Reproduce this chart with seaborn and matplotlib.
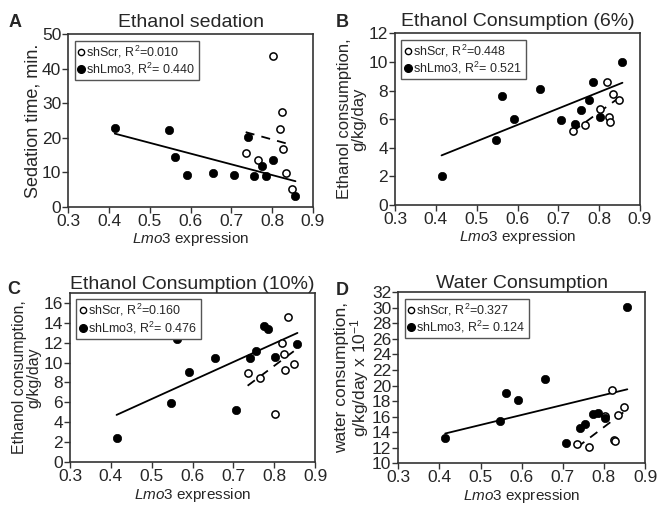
import matplotlib
matplotlib.use("Agg")
import matplotlib.pyplot as plt
import seaborn as sns
import pandas as pd
from matplotlib.lines import Line2D

sns.set_style("ticks")
plt.rcParams['font.family'] = ['Liberation Sans', 'DejaVu Sans']
plt.rcParams['mathtext.fontset'] = 'custom'
plt.rcParams['mathtext.rm'] = 'Liberation Sans'
plt.rcParams['mathtext.it'] = 'Liberation Sans:italic'
plt.rcParams['mathtext.bf'] = 'Liberation Sans:bold'

# Lmo3 expression per animal
x_shLmo3 = [0.414, 0.547, 0.562, 0.592, 0.656, 0.707, 0.741, 0.755, 0.774, 0.785, 0.802, 0.857]
x_shScr = [0.735, 0.765, 0.802, 0.820, 0.824, 0.826, 0.835, 0.848]

# Panel A: Ethanol sedation (min)
sed_shLmo3 = [22.9, 22.2, 14.4, 9.1, 9.9, 9.1, 20.1, 8.9, 11.8, 8.9, 13.6, 3.0]
sed_shScr = [15.6, 13.5, 43.7, 22.4, 27.6, 16.6, 9.7, 5.0]
# Panel B: Ethanol consumption 6% (g/kg/day)
e6_shLmo3 = [2.02, 4.53, 7.60, 6.02, 8.12, 5.93, 5.65, 6.63, 7.33, 8.6, 6.12, 10.0]
e6_shScr = [5.14, 5.56, 6.72, 8.63, 6.12, 5.79, 7.75, 7.33]
# Panel C: Ethanol consumption 10% (g/kg/day)
e10_shLmo3 = [2.4, 5.9, 12.4, 9.1, 10.5, 5.2, 10.5, 11.2, 13.7, 13.4, 10.6, 11.9]
e10_shScr = [9.0, 8.5, 4.8, 12.0, 10.9, 9.3, 14.6, 9.9]
# Panel D: Water consumption (g/kg/day x 10^-1)
w_shLmo3 = [13.2, 15.5, 19.0, 18.15, 20.8, 12.57, 14.5, 15.06, 16.3, 16.43, 15.8, 30.08]
w_shScr = [12.5, 12.05, 16.1, 19.4, 13.0, 12.9, 16.2, 17.3]

panel_letters = ["A", "B", "C", "D"]
titles = ["Ethanol sedation", "Ethanol Consumption (6%)",
          "Ethanol Consumption (10%)", "Water Consumption"]
ylabels = ["Sedation time, min.", "Ethanol consumption,\ng/kg/day",
           "Ethanol consumption,\ng/kg/day", "water consumption,\ng/kg/day x 10$^{-1}$"]
r2_scr = ["0.010", "0.448", "0.160", "0.327"]
r2_lmo = ["0.440", "0.521", "0.476", "0.124"]
ylims = [(0, 50), (0, 12), (0, 17), (10, 32)]
yticks = [list(range(0, 51, 10)), list(range(0, 13, 2)),
          list(range(0, 17, 2)), list(range(10, 33, 2))]
xticks = [0.3, 0.4, 0.5, 0.6, 0.7, 0.8, 0.9]

lmo_sets = [sed_shLmo3, e6_shLmo3, e10_shLmo3, w_shLmo3]
scr_sets = [sed_shScr, e6_shScr, e10_shScr, w_shScr]

W, H = 667, 512
fig = plt.figure(figsize=(W / 100, H / 100), dpi=100)
# axes boxes in pixels: left, top, right, bottom
boxes = [(68.3, 34.3, 313, 206.7), (395, 33.3, 640, 205),
         (70, 292.7, 315, 462.3), (398.3, 292.3, 645, 463.3)]
letter_pos = [(9, 27), (336, 27), (7, 294), (336, 295)]
title_pads = [5, 5, 3, 3]
ylabel_sizes = [13, 12, 11.5, 12.5]
ylabel_pads = [0, 2, 2, 1]

edge = "#333333"
for i in range(4):
    l, t, r, b = boxes[i]
    ax = fig.add_axes([l / W, 1 - b / H, (r - l) / W, (b - t) / H])
    dl = pd.DataFrame({"x": x_shLmo3, "y": lmo_sets[i]})
    ds = pd.DataFrame({"x": x_shScr, "y": scr_sets[i]})
    sns.regplot(data=dl, x="x", y="y", ax=ax, scatter=False, ci=None,
                line_kws=dict(color="black", lw=1.3))
    sns.regplot(data=ds, x="x", y="y", ax=ax, scatter=False, ci=None,
                line_kws=dict(color="black", lw=1.3, ls=(0, (5, 4))))
    sns.scatterplot(data=ds, x="x", y="y", ax=ax, marker="o", s=27,
                    facecolor="white", edgecolor="black", linewidth=1.1, zorder=3)
    sns.scatterplot(data=dl, x="x", y="y", ax=ax, marker="o", s=36,
                    color="black", edgecolor="black", linewidth=0.5, zorder=4)
    ax.set_xlim(0.3, 0.9)
    ax.set_ylim(*ylims[i])
    ax.set_xticks(xticks)
    ax.set_xticklabels([f"{v:.1f}" for v in xticks])
    ax.set_yticks(yticks[i])
    ax.tick_params(axis="x", labelsize=12.5, length=4, width=1, color=edge, pad=1)
    ax.tick_params(axis="y", labelsize=12.5, length=4, width=1, color=edge, pad=1)
    for sp in ax.spines.values():
        sp.set_visible(True)
        sp.set_color(edge)
        sp.set_linewidth(1.2)
    ax.set_xlabel("$\\it{Lmo3}$ expression", fontsize=11, labelpad=1)
    ax.set_ylabel(ylabels[i], fontsize=ylabel_sizes[i], labelpad=ylabel_pads[i],
                  linespacing=0.9)
    ax.set_title(titles[i], fontsize=14, pad=title_pads[i])
    handles = [
        Line2D([], [], ls="none", marker="o", ms=4.5, mfc="white", mec="black", mew=1),
        Line2D([], [], ls="none", marker="o", ms=5.5, mfc="black", mec="black"),
    ]
    labels = [f"shScr, R$^2$={r2_scr[i]}", f"shLmo3, R$^2$= {r2_lmo[i]}"]
    leg = ax.legend(handles, labels, loc="upper left", fontsize=9, frameon=True,
                    fancybox=False, edgecolor="#555555", framealpha=1,
                    handlelength=0.5, handletextpad=0.2, borderpad=0.25,
                    labelspacing=0.1, borderaxespad=0.5)
    leg.get_frame().set_linewidth(1.0)
    fig.text(letter_pos[i][0] / W, 1 - letter_pos[i][1] / H, panel_letters[i],
             fontsize=13, fontweight="bold", ha="left", va="baseline")

fig.savefig("out.png", dpi=100)
